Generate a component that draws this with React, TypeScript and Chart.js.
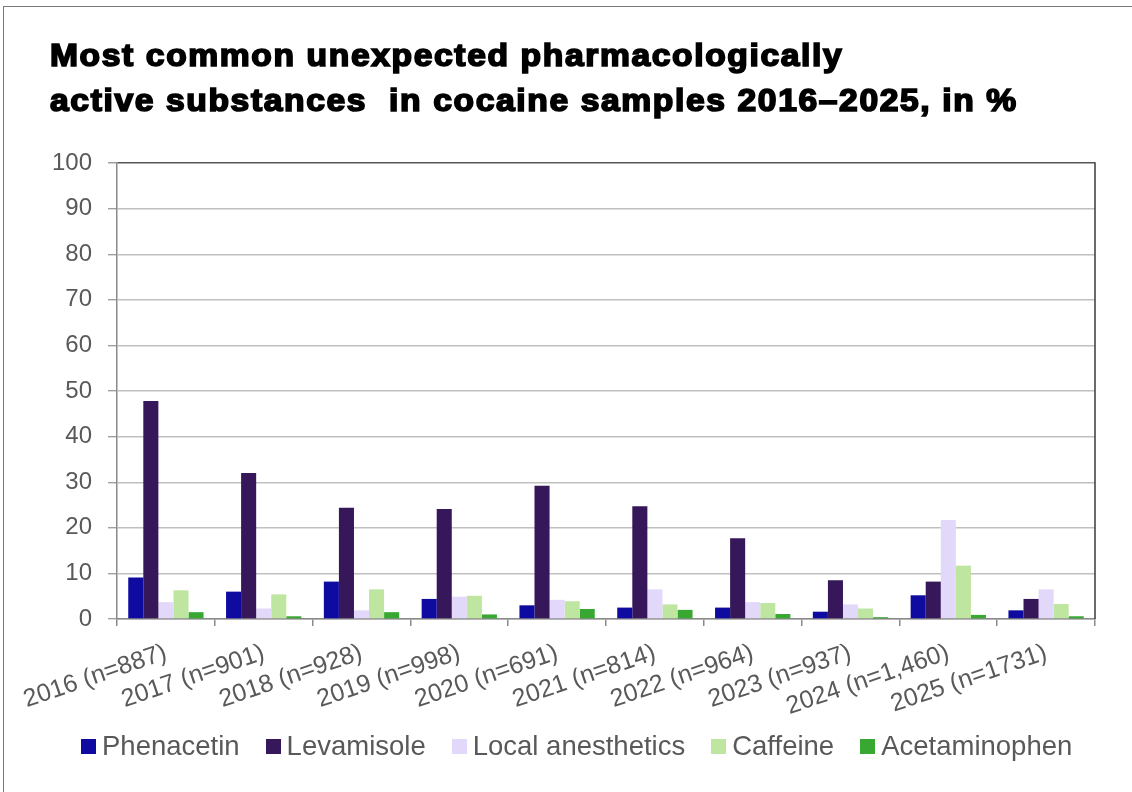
import React, { useEffect, useRef } from "react";
import { Chart, registerables } from "chart.js";

Chart.register(...registerables);

// Survey years with sample counts
const years = [
  "2016 (n=887)",
  "2017 (n=901)",
  "2018 (n=928)",
  "2019 (n=998)",
  "2020 (n=691)",
  "2021 (n=814)",
  "2022 (n=964)",
  "2023 (n=937)",
  "2024 (n=1,460)",
  "2025 (n=1731)",
];

// Share of samples containing each substance, in %
const phenacetin = [9.1, 6.0, 8.2, 4.4, 3.0, 2.5, 2.5, 1.6, 5.2, 1.9];
const levamisole = [47.8, 32.0, 24.4, 24.1, 29.2, 24.7, 17.7, 8.5, 8.2, 4.4];
const localAnesthetics = [3.7, 2.3, 1.9, 4.9, 4.2, 6.5, 3.7, 3.2, 21.7, 6.5];
const caffeine = [6.3, 5.4, 6.5, 5.1, 3.9, 3.2, 3.5, 2.3, 11.7, 3.3];
const acetaminophen = [1.5, 0.6, 1.5, 1.0, 2.2, 2.0, 1.1, 0.4, 0.9, 0.6];

const seriesNames = ["Phenacetin", "Levamisole", "Local anesthetics", "Caffeine", "Acetaminophen"];
const seriesValues = [phenacetin, levamisole, localAnesthetics, caffeine, acetaminophen];
const seriesColors = ["#0f0aa0", "#36175a", "#e2d8fa", "#bee6a0", "#38a832"];

const yMax = 100;
const yStep = 10;

const FONT = "'Liberation Sans', Arial, sans-serif";
const TEXT_GREY = "#595959";

// Dark outline on the right side of the plot area
const plotFrame = {
  id: "plotFrame",
  afterDatasetsDraw(chart: any) {
    const { ctx, chartArea } = chart;
    ctx.save();
    ctx.strokeStyle = "#3a3a3a";
    ctx.lineWidth = 1.5;
    ctx.beginPath();
    ctx.moveTo(chartArea.right, chartArea.top - 0.75);
    ctx.lineTo(chartArea.right, chartArea.bottom);
    ctx.stroke();
    ctx.restore();
  },
};

export default function App() {
  const canvasRef = useRef<HTMLCanvasElement | null>(null);

  useEffect(() => {
    if (!canvasRef.current) return;
    const chart = new Chart(canvasRef.current, {
      type: "bar",
      data: {
        labels: years,
        datasets: seriesNames.map((name, i) => ({
          label: name,
          data: seriesValues[i],
          backgroundColor: seriesColors[i],
          borderWidth: 0,
          categoryPercentage: 0.77,
          barPercentage: 1.0,
        })),
      },
      options: {
        animation: false,
        responsive: false,
        devicePixelRatio: 1,
        layout: { padding: { top: 163, right: 37, left: 0, bottom: 73 } },
        plugins: {
          legend: { display: false },
          title: { display: false },
          tooltip: { enabled: false },
        },
        scales: {
          x: {
            afterFit(scale: any) {
              scale.height = 100;
            },
            grid: {
              offset: true,
              drawOnChartArea: false,
              drawTicks: true,
              tickLength: 7,
              color: "#8a8a8a",
              lineWidth: 1.5,
            },
            border: { color: "#8a8a8a", width: 1.5 },
            ticks: {
              autoSkip: false,
              minRotation: 19,
              maxRotation: 19,
              padding: 12,
              color: TEXT_GREY,
              font: { family: FONT, size: 25 },
            },
          },
          y: {
            min: 0,
            max: yMax,
            afterFit(scale: any) {
              scale.width = 117;
            },
            ticks: {
              stepSize: yStep,
              padding: 16,
              color: TEXT_GREY,
              font: { family: FONT, size: 24 },
            },
            grid: {
              color: (c: any) => (c.tick && c.tick.value === yMax ? "#555555" : "#c0c0c0"),
              lineWidth: (c: any) => (c.tick && c.tick.value === yMax ? 1.5 : 1.4),
              tickColor: "#a0a0a0",
              tickLength: 9,
            },
            border: { color: "#8a8a8a", width: 1.5 },
          },
        },
      },
      plugins: [plotFrame],
    });
    return () => chart.destroy();
  }, []);

  return (
    <div
      style={{
        position: "fixed",
        left: 0,
        top: 0,
        width: 1132,
        height: 792,
        background: "#ffffff",
        overflow: "hidden",
      }}
    >
      <div
        style={{
          position: "absolute",
          left: 3,
          top: 6,
          width: 1200,
          height: 900,
          borderTop: "1.5px solid #7a7a7a",
          borderLeft: "1.5px solid #7a7a7a",
        }}
      />
      <canvas
        ref={canvasRef}
        width={1132}
        height={792}
        style={{ position: "absolute", left: 0, top: 0, width: 1132, height: 792 }}
      />
      <div
        style={{
          position: "absolute",
          left: 50,
          top: 33,
          fontFamily: FONT,
          fontWeight: 700,
          fontSize: 31,
          lineHeight: "45px",
          color: "#000",
          WebkitTextStroke: "1.7px #000",
          letterSpacing: 1.5,
          whiteSpace: "pre",
          transform: "scaleX(1.084)",
          transformOrigin: "left top",
        }}
      >
        <div>Most common unexpected pharmacologically</div>
        <div>active substances  in cocaine samples 2016–2025, in %</div>
      </div>
      <div
        style={{
          position: "absolute",
          left: 81,
          top: 729,
          height: 34,
          display: "flex",
          alignItems: "center",
          fontFamily: FONT,
          fontSize: 27.5,
          color: TEXT_GREY,
          whiteSpace: "pre",
        }}
      >
        {seriesNames.map((name, i) => (
          <div
            key={name}
            style={{ display: "flex", alignItems: "center", marginRight: i < seriesNames.length - 1 ? 26 : 0 }}
          >
            <span
              style={{
                display: "inline-block",
                width: 15,
                height: 15,
                background: seriesColors[i],
                marginRight: 6,
              }}
            />
            <span>{name}</span>
          </div>
        ))}
      </div>
    </div>
  );
}
